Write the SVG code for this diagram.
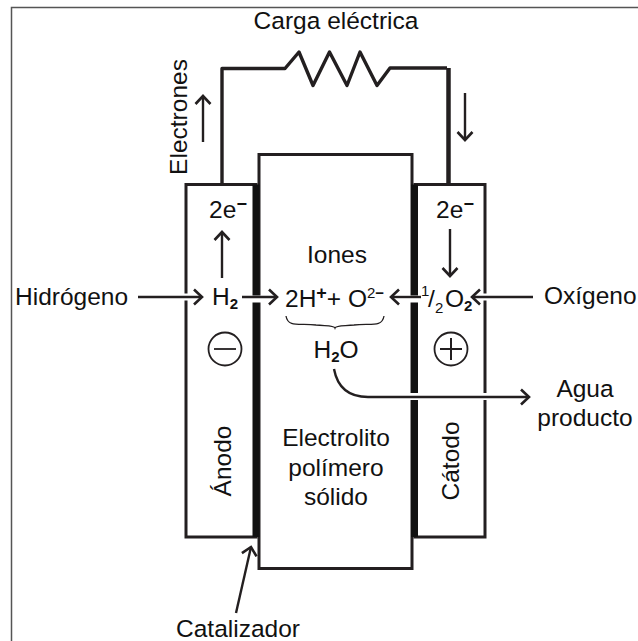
<svg xmlns="http://www.w3.org/2000/svg" width="638" height="641" viewBox="0 0 638 641">
<defs>
<marker id="a" markerUnits="userSpaceOnUse" markerWidth="16" markerHeight="20" refX="13" refY="10" orient="auto"><path d="M5 2.500L13 10L5 17.500" fill="none" stroke="#231f20" stroke-width="2.600"/></marker>
</defs>
<style>
text{font-family:"Liberation Sans",Arial,sans-serif;font-size:24.500px;fill:#111}
.m{text-anchor:middle}
.s{font-size:15px}
.box{fill:#fff;stroke:#231f20;stroke-width:3}
.l{fill:none;stroke:#231f20;stroke-width:2.400}
.h{fill:none;stroke:#fff;stroke-width:7}
.ar{marker-end:url(#a)}
</style>
<rect width="638" height="641" fill="#fff"/>
<path d="M11.500 641V7.500H638" fill="none" stroke="#555" stroke-width="1.500"/>
<g id="anode"><rect class="box" x="186" y="184.500" width="70" height="352.500"/><text class="m" transform="translate(231 461) rotate(-90)">Ánodo</text></g>
<g id="cathode"><rect class="box" x="415" y="184.500" width="70" height="352.500"/><text class="m" transform="translate(459 461) rotate(-90)">Cátodo</text></g>
<g id="electrolyte"><rect class="box" x="259" y="154.500" width="153" height="414"/>
<rect x="252.500" y="184.500" width="7" height="352.500" fill="#111"/><rect x="411" y="184.500" width="7" height="352.500" fill="#111"/>
<text class="m" x="337" y="263">Iones</text>
<text class="m" x="336" y="446">Electrolito</text><text class="m" x="336" y="476">polímero</text><text class="m" x="336" y="505">sólido</text></g>
<g id="load"><text class="m" x="336" y="29">Carga eléctrica</text>
<text class="m" transform="translate(187 117) rotate(-90)">Electrones</text>
<text class="m" x="228" y="218">2e<tspan dy="-8" font-weight="bold" font-size="18">−</tspan></text>
<text class="m" x="455" y="218">2e<tspan dy="-8" font-weight="bold" font-size="18">−</tspan></text></g>
<g id="connectors">
<path d="M222 184V68.500H285L299 52L313 85.500L329.500 52L347 85.500L360 52L377 85.500L390 68H447" fill="none" stroke="#231f20" stroke-width="3.400" stroke-linejoin="round"/>
<path d="M448.500 68V184" fill="none" stroke="#231f20" stroke-width="4.500"/>
<path class="l ar" d="M203 142V96"/><path class="l ar" d="M465 93V140"/>
<path class="l ar" d="M222 278V232"/><path class="l ar" d="M450 229V276"/>
<path class="h" d="M180 297H192M479 297H491"/>
<path class="l ar" d="M138 297H202"/>
<path class="h" d="M246 299H266"/><path class="l ar" d="M242 297H277"/>
<path class="h" d="M405 299H424"/><path class="l ar" d="M421 297H391"/>
<path class="l ar" d="M533 297H472"/>
<path class="h" d="M405 396.500H424M479 396.500H491"/><path class="l ar" d="M334 369C337 385 347 397 368 397H529"/>
<path class="l ar" d="M236 613L251 547"/>
<path fill="none" stroke="#231f20" stroke-width="1.300" d="M286 316C288 328 300 323 316 325C326 326 334 325 335 328C336 325 344 326 354 325C370 323 382 328 384 316"/>
</g>
<g id="species">
<text class="m" x="225" y="305">H<tspan class="s" dy="4" font-weight="bold">2</tspan></text>
<text x="285" y="307">2H<tspan dy="-8" font-size="18" font-weight="bold">+</tspan><tspan dy="8">+ O</tspan><tspan class="s" dy="-9">2</tspan><tspan font-size="15" font-weight="bold">−</tspan></text>
<text x="421" y="296" class="s">1</text><text x="428" y="307">/</text><text x="435" y="313" class="s">2</text><text x="445" y="307">O<tspan class="s" dy="4" font-weight="bold">2</tspan></text>
<text class="m" x="336" y="358">H<tspan class="s" dy="4" font-weight="bold">2</tspan><tspan dy="-4">O</tspan></text>
<circle cx="225" cy="349" r="16.500" fill="none" stroke="#231f20" stroke-width="1.800"/><path d="M214 349H236" stroke="#231f20" stroke-width="1.800"/>
<circle cx="451" cy="349" r="16.500" fill="none" stroke="#231f20" stroke-width="1.800"/><path d="M440 349H462M451 338V360" stroke="#231f20" stroke-width="2"/>
</g>
<g id="labels">
<text x="15" y="305">Hidrógeno</text><text x="544" y="304">Oxígeno</text>
<text class="m" x="585" y="397">Agua</text><text class="m" x="585" y="426">producto</text>
<text class="m" x="238" y="637">Catalizador</text></g>
</svg>
